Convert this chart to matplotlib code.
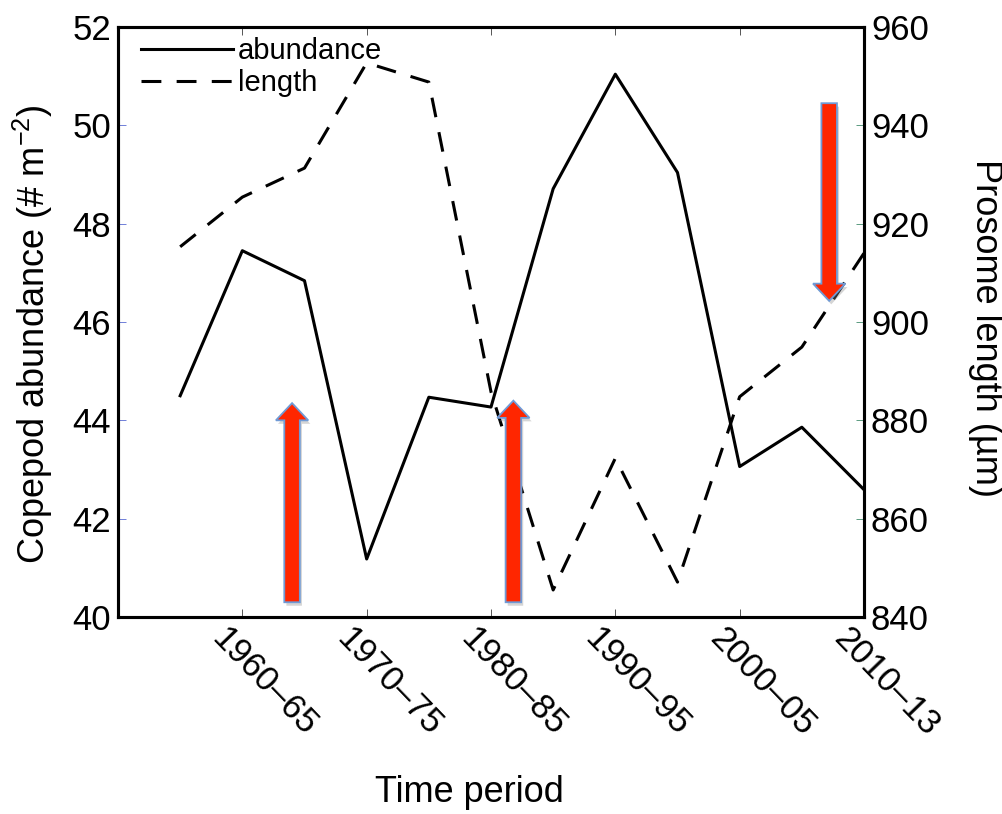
import matplotlib
matplotlib.use('Agg')
import matplotlib.pyplot as plt
from matplotlib.patches import FancyArrow
from matplotlib.transforms import ScaledTranslation
import matplotlib.patheffects as pe

# ---- data ----
period_x = [1955, 1960, 1965, 1970, 1975, 1980, 1985, 1990, 1995, 2000, 2005, 2010]
abundance = [44.50, 47.45, 46.84, 41.18, 44.47, 44.27, 48.71, 51.04, 49.04, 43.06, 43.86, 42.59]
length = [915.3, 925.4, 931.3, 952.7, 948.8, 885.8, 845.5, 872.3, 847.1, 884.8, 894.9, 914.0]
tick_pos = [1960, 1970, 1980, 1990, 2000, 2010]
tick_labels = ['1960–65', '1970–75', '1980–85', '1990–95', '2000–05', '2010–13']
left_ticks = [40, 42, 44, 46, 48, 50, 52]
right_ticks = [840, 860, 880, 900, 920, 940, 960]
arrow_x = [1964.0, 1981.8, 2007.2]
arrow_from = [40.3, 40.3, 50.45]
arrow_to = [44.35, 44.40, 46.43]

FONT = 'Liberation Sans'
plt.rcParams['font.family'] = [FONT, 'DejaVu Sans']
plt.rcParams['mathtext.fontset'] = 'custom'
plt.rcParams['mathtext.rm'] = FONT
plt.rcParams['mathtext.default'] = 'regular'

fig = plt.figure(figsize=(10.02, 8.14), dpi=100)
L, R, T, B = 118, 864, 27, 617
W, H = 1002, 814
ax1 = fig.add_axes([L / W, 1 - B / H, (R - L) / W, (B - T) / H])
ax2 = ax1.twinx()

lw = 2.2
l1, = ax1.plot(period_x, abundance, color='black', lw=lw, label='abundance')
l2, = ax2.plot(period_x, length, color='black', lw=lw, dashes=(6.5, 5), label='length')

ax1.set_xlim(1950, 2010)
ax1.set_ylim(40, 52)
ax2.set_ylim(840, 960)

ax1.set_xticks(tick_pos)
ax1.set_xticklabels([])
# rotated period labels placed below the ticks
shift = ScaledTranslation(-13 / 100, -5 / 100, fig.dpi_scale_trans)
for pos, lab in zip(tick_pos, tick_labels):
    ax1.text(pos, 0, lab, transform=ax1.get_xaxis_transform() + shift,
             rotation=-46, ha='left', va='top', rotation_mode='anchor',
             fontsize=25, clip_on=False)

ax1.set_yticks(left_ticks)
ax1.set_yticklabels([str(v) for v in left_ticks], fontsize=25)
ax2.set_yticks(right_ticks)
ax2.set_yticklabels([str(v) for v in right_ticks], fontsize=25)

ax1.tick_params(axis='x', direction='in', length=6, width=0.7, color='#555555',
                top=True, pad=8)
ax1.tick_params(axis='y', direction='in', length=6, width=0.7, color='#6f7fd8', pad=5)
ax2.tick_params(axis='y', direction='in', length=6, width=0.7, color='#5a9a80', pad=5)

for ax in (ax1, ax2):
    for s in ax.spines.values():
        s.set_linewidth(2.2)

# arrows (on top of both lines)
for x, y0, y1 in zip(arrow_x, arrow_from, arrow_to):
    arr = FancyArrow(x, y0, 0, y1 - y0, width=1.25, head_width=2.6,
                     head_length=0.35, length_includes_head=True,
                     facecolor='#ff2600', edgecolor='#6f9ad6', linewidth=1.3,
                     transform=ax1.transData, zorder=5)
    arr.set_path_effects([pe.SimplePatchShadow(offset=(1.5, -2.5), shadow_rgbFace='#888888', alpha=0.35),
                          pe.Normal()])
    ax2.add_patch(arr)

leg = ax2.legend(handles=[l1, l2], loc='upper left', bbox_to_anchor=(0.008, 1.012),
                 frameon=False, fontsize=21, handlelength=3.15, handletextpad=0.15,
                 labelspacing=0.12, borderaxespad=0.2)

fig.text(33 / W, 1 - 334 / H, 'Copepod abundance (# m$^{-2}$)', rotation=90,
         ha='center', va='center', fontsize=26)
fig.text(985 / W, 1 - 328 / H, 'Prosome length (µm)', rotation=270,
         ha='center', va='center', fontsize=26)
fig.text(469 / W, 1 - 793 / H, 'Time period', ha='center', va='center', fontsize=26)

fig.savefig('out.png', dpi=100)
